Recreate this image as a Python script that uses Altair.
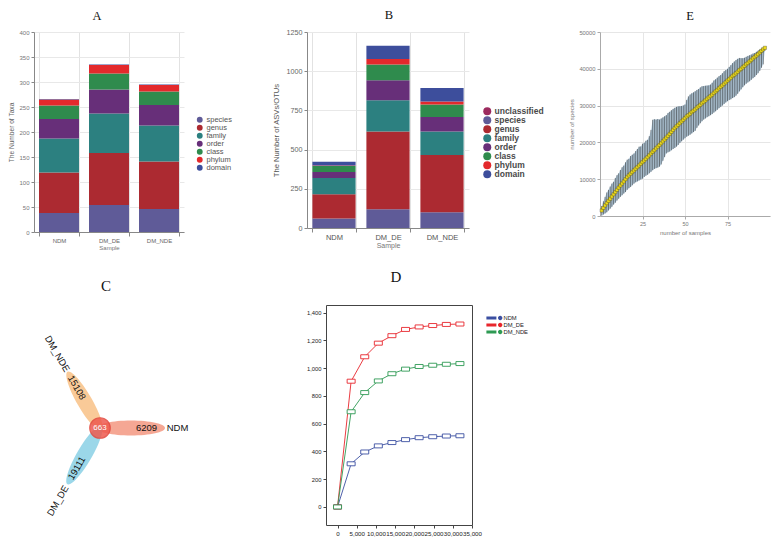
import math
import altair as alt
import pandas as pd

# ---------------- shared ----------------
samples = ["NDM", "DM_DE", "DM_NDE"]

# ---------------- Panel A : number of taxa ----------------
levels_a = ["species", "genus", "family", "order", "class", "phylum", "domain"]
colors_a = ["#5f5b98", "#ac2a31", "#2c8080", "#672f79", "#2f8b4d", "#e3292c", "#3d4e9c"]
taxa_species = [38, 54, 46]
taxa_genus = [81, 104, 95]
taxa_family = [68, 79, 72]
taxa_order = [39, 48, 41]
taxa_class = [27, 32, 27]
taxa_phylum = [12, 17, 13]
taxa_domain = [1, 1, 1]

# ---------------- Panel B : number of ASVs/OTUs ----------------
levels_b = ["unclassified", "species", "genus", "family", "order", "class", "phylum", "domain"]
colors_b = ["#9c2a5e", "#5f5b98", "#ac2a31", "#2c8080", "#672f79", "#2f8b4d", "#e3292c", "#3d4e9c"]
asv_unclassified = [0, 0, 0]
asv_species = [61, 120, 101]
asv_genus = [154, 495, 364]
asv_family = [104, 200, 150]
asv_order = [38, 127, 93]
asv_class = [39, 101, 79]
asv_phylum = [3, 35, 20]
asv_domain = [23, 84, 86]

# ---------------- Panel E : species accumulation ----------------
e_samples = list(range(1, 98))
e_mean = [1500, 2200, 2900, 3500, 4100, 4700, 5300, 5900, 6500, 7100,
          7700, 8300, 8850, 9400, 10000, 10600, 11050, 11500, 11950, 12400,
          12850, 13300, 13750, 14200, 14650, 15100, 15550, 16000, 16500, 17000,
          17450, 17900, 18400, 18850, 19300, 19800, 20300, 20800, 21300, 21800,
          22300, 22850, 23400, 23900, 24350, 24800, 25250, 25700, 26150, 26600,
          27050, 27400, 27800, 28250, 28600, 29000, 29450, 29800, 30200, 30650,
          31000, 31400, 31850, 32200, 32600, 33000, 33450, 33850, 34250, 34700,
          35100, 35500, 35950, 36350, 36800, 37200, 37600, 38050, 38400, 38800,
          39200, 39650, 40000, 40400, 40800, 41250, 41600, 42000, 42400, 42850,
          43200, 43600, 44000, 44450, 44880, 45300, 45700]
e_up = [1200, 1800, 2300, 2900, 3000, 3300, 3500, 3400, 3800, 4000,
        3900, 4200, 4400, 4300, 4600, 4700, 4500, 4800, 4700, 4600,
        4800, 4900, 5100, 4700, 5000, 4800, 4900, 4700, 5200, 6400,
        8700, 8400, 7800, 7500, 6900, 6700, 6500, 6300, 6100, 6200,
        6000, 5900, 5700, 5500, 5300, 5000, 4600, 4200, 3900, 3700,
        4500, 5100, 5200, 5100, 5000, 4900, 4800, 4700, 4750, 4600,
        4300, 4000, 3600, 3300, 3100, 3200, 3400, 3300, 3350, 3300,
        3200, 3300, 3400, 3300, 3200, 3300, 3400, 3500, 3600, 3580,
        3500, 3300, 2900, 2500, 2200, 2000, 1900, 1700, 1500, 1300,
        1100, 1000, 900, 800, 600, 400, 250]
e_down = [1400, 1800, 2200, 2500, 2600, 2700, 2800, 2800, 2900, 2900,
          3000, 3100, 3200, 3300, 3500, 3500, 3500, 3600, 3600, 3600,
          3700, 3900, 4100, 4300, 4500, 4500, 4600, 4800, 4900, 5000,
          5000, 5100, 5400, 5700, 5900, 5800, 5300, 4800, 4300, 4500,
          4800, 5000, 5200, 5400, 5500, 5500, 5400, 5400, 5400, 5450,
          5500, 5600, 5700, 5800, 5800, 5860, 5500, 5200, 5000, 4900,
          4800, 4900, 5000, 5100, 5200, 5300, 5350, 5400, 5400, 5400,
          5450, 5500, 5500, 5500, 5600, 5700, 5900, 6000, 6100, 6100,
          6000, 5800, 5600, 5400, 5300, 5300, 5300, 5400, 5400, 5400,
          5400, 5300, 5200, 5000, 4600, 4100, 800]

# ---------------- Panel C : flower / venn ----------------
venn_sets = ["NDM", "DM_NDE", "DM_DE"]
venn_unique = [6209, 15108, 19111]
venn_core = 663
venn_dir = [0, 120, 240]            # petal direction, degrees counter-clockwise
venn_fill = ["#f4a08b", "#f8c58f", "#93d4e7"]
venn_text_angle = [0, 60, 300]
petal_offset = 1.0
count_offset = 1.5
name_offset = [2.5, 2.76, 2.71]

# ---------------- Panel D : rarefaction ----------------
d_groups = ["NDM", "DM_DE", "DM_NDE"]
d_colors = ["#3b4fa1", "#e8262c", "#2e9a53"]
d_depth = [0, 3540, 7080, 10620, 14160, 17700, 21240, 24780, 28320, 31860]
d_ndm = [0, 311, 396, 440, 464, 485, 499, 506, 511, 513]
d_dm_de = [0, 906, 1082, 1180, 1234, 1279, 1297, 1307, 1315, 1318]
d_dm_nde = [0, 686, 824, 908, 960, 993, 1012, 1021, 1028, 1033]

# ---------------- shapes ----------------
ELLIPSE = ("M-1,0C-1,-0.1215 -0.5523,-0.22 0,-0.22C0.5523,-0.22 1,-0.1215 1,0"
           "C1,0.1215 0.5523,0.22 0,0.22C-0.5523,0.22 -1,0.1215 -1,0Z")
BOX = "M-1,-0.5L1,-0.5L1,0.5L-1,0.5Z"
LEGEND_SYM = ("M-2.9,-0.38L-0.4,-0.38L-0.4,0.38L-2.9,0.38Z "
              "M0,0C0,-0.304 0.246,-0.55 0.55,-0.55C0.854,-0.55 1.1,-0.304 1.1,0"
              "C1.1,0.304 0.854,0.55 0.55,0.55C0.246,0.55 0,0.304 0,0Z")


def stack_rows(levels, series):
    rows = []
    for i, lev in enumerate(levels):
        for s, v in zip(samples, series[i]):
            rows.append({"sample": s, "level": lev, "value": v, "rank": i})
    return pd.DataFrame(rows)


def panel_title(txt, size, offset, dx):
    return alt.TitleParams(txt, font="Liberation Serif", fontSize=size, fontWeight="normal",
                           color="#111", anchor="middle", frame="group", offset=offset, dx=dx)


# ---------- A ----------
dfA = stack_rows(levels_a, [taxa_species, taxa_genus, taxa_family, taxa_order,
                            taxa_class, taxa_phylum, taxa_domain])
chartA = alt.Chart(dfA).mark_bar().encode(
    x=alt.X("sample:N", sort=samples,
            scale=alt.Scale(paddingInner=0.2, paddingOuter=0.1),
            axis=alt.Axis(title="Sample", labelAngle=0, tickBand="extent", grid=True,
                          gridColor="#e2e2e2", domainColor="#888", tickColor="#888",
                          tickSize=4, labelColor="#666", labelFontSize=6, titleColor="#777",
                          titleFontSize=6, titleFontWeight="normal", labelPadding=1, titlePadding=1)),
    y=alt.Y("value:Q", stack="zero", scale=alt.Scale(domain=[0, 400]),
            axis=alt.Axis(title="The Number of Taxa", values=list(range(0, 401, 50)),
                          gridColor="#e8e8e8", domainColor="#888", tickColor="#888", tickSize=3,
                          labelColor="#777", labelFontSize=6, titleColor="#666", titleFontSize=6.6,
                          titleFontWeight="normal", labelPadding=2, titlePadding=4)),
    color=alt.Color("level:N", scale=alt.Scale(domain=levels_a, range=colors_a),
                    legend=alt.Legend(title=None, orient="none", legendX=162, legendY=84,
                                      symbolType="circle", symbolSize=34, symbolStrokeWidth=0,
                                      labelFontSize=7.5, labelColor="#555", rowPadding=-1.5,
                                      labelOffset=3, padding=0)),
    order=alt.Order("rank:Q"),
).properties(width=150, height=200, title=panel_title("A", 12.5, 7, -12))

# ---------- B ----------
dfB = stack_rows(levels_b, [asv_unclassified, asv_species, asv_genus, asv_family,
                            asv_order, asv_class, asv_phylum, asv_domain])
chartB = alt.Chart(dfB).mark_bar().encode(
    x=alt.X("sample:N", sort=samples,
            scale=alt.Scale(paddingInner=0.2, paddingOuter=0.1),
            axis=alt.Axis(title="Sample", labelAngle=0, tickBand="extent", grid=True,
                          gridColor="#e2e2e2", domainColor="#888", tickColor="#888",
                          tickSize=4, labelColor="#555", labelFontSize=7.5, titleColor="#777",
                          titleFontSize=7, titleFontWeight="normal", labelPadding=1, titlePadding=1)),
    y=alt.Y("value:Q", stack="zero", scale=alt.Scale(domain=[0, 1250]),
            axis=alt.Axis(title="The Number of ASVs/OTUs", values=list(range(0, 1251, 250)),
                          format="d", gridColor="#e8e8e8", domainColor="#888", tickColor="#888",
                          tickSize=3, labelColor="#666", labelFontSize=7.2, titleColor="#555",
                          titleFontSize=7.6, titleFontWeight="normal", labelPadding=2,
                          titlePadding=6)),
    color=alt.Color("level:N", scale=alt.Scale(domain=levels_b, range=colors_b),
                    legend=alt.Legend(title=None, orient="none", legendX=176, legendY=75,
                                      symbolType="circle", symbolSize=64, symbolStrokeWidth=0,
                                      labelFontSize=8.5, labelFontWeight="bold", labelColor="#4a4a4a",
                                      rowPadding=-0.5, labelOffset=3, padding=0)),
    order=alt.Order("rank:Q"),
).properties(width=162, height=196, title=panel_title("B", 12.5, 7, 1))

# ---------- E ----------
dfE = pd.DataFrame({"n": e_samples, "mean": e_mean, "up": e_up, "down": e_down})
dfE["hi"] = dfE["mean"] + dfE["up"]
dfE["lo"] = dfE["mean"] - dfE["down"]

xE = alt.X("n:Q", scale=alt.Scale(domain=[0, 100], nice=False),
           axis=alt.Axis(title="number of samples", values=[25, 50, 75], gridColor="#e6e6e6",
                         domainColor="#aaa", tickColor="#aaa", tickSize=3, labelColor="#777",
                         labelFontSize=5.5, titleColor="#777", titleFontSize=6,
                         titleFontWeight="normal", labelPadding=2, titlePadding=3))


def yE(field):
    return alt.Y(field, type="quantitative", scale=alt.Scale(domain=[0, 50000], nice=False),
                 axis=alt.Axis(title="number of species", values=list(range(0, 50001, 10000)),
                               format="d", gridColor="#e6e6e6", domainColor="#aaa", tickColor="#aaa",
                               tickSize=3, labelColor="#777", labelFontSize=5.8, titleColor="#777",
                               titleFontSize=6.2, titleFontWeight="normal", labelPadding=2,
                               titlePadding=4))


baseE = alt.Chart(dfE)
bandE = baseE.mark_area(color="#bed6e8", opacity=1).encode(x=xE, y=yE("lo"), y2="hi:Q")
barsE = baseE.mark_rule(color="#1a1a1a", strokeWidth=0.6, opacity=0.9).encode(
    x=xE, y=yE("lo"), y2="hi:Q")
lineE = baseE.mark_line(color="#111", strokeWidth=1.3).encode(x=xE, y=yE("mean"))
ptsE = baseE.mark_point(shape="square", filled=True, color="#eedb1c", size=11,
                        stroke="#222", strokeWidth=0.3, opacity=1).encode(x=xE, y=yE("mean"))
chartE = alt.layer(bandE, barsE, lineE, ptsE).properties(
    width=170, height=184, title=panel_title("E", 12.5, 7, 5))

# ---------- C ----------
unit_px = 31.0
c_width, c_height = 262, 215
c_cx, c_cy = 66.0, 123.0
rows = []
for name, cnt, d, fill, ta, no in zip(venn_sets, venn_unique, venn_dir, venn_fill,
                                      venn_text_angle, name_offset):
    ca, sa = math.cos(math.radians(d)), math.sin(math.radians(d))
    rows.append({"set": name, "count": str(cnt), "fill": fill,
                 "rot": (360 - d) % 180, "tangle": ta,
                 "px": petal_offset * ca, "py": petal_offset * sa,
                 "cx": count_offset * ca, "cy": count_offset * sa,
                 "nx": no * ca, "ny": no * sa})
dfC = pd.DataFrame(rows)
dfCore = pd.DataFrame({"x": [0.0], "y": [0.0], "count": [str(venn_core)]})

scx = alt.Scale(domain=[-c_cx / unit_px, (c_width - c_cx) / unit_px], nice=False, zero=False)
scy = alt.Scale(domain=[-(c_height - c_cy) / unit_px, c_cy / unit_px], nice=False, zero=False)

petals = alt.Chart(dfC).mark_point(shape=ELLIPSE, filled=True, size=4624, opacity=0.92,
                                   strokeWidth=0).encode(
    x=alt.X("px:Q", scale=scx, axis=None),
    y=alt.Y("py:Q", scale=scy, axis=None),
    fill=alt.Fill("fill:N", scale=None),
    angle=alt.Angle("rot:Q", scale=None))
core = alt.Chart(dfCore).mark_point(shape="circle", filled=True, size=420, color="#ee5a4f",
                                    opacity=0.85, stroke="#e2443a", strokeWidth=1.2).encode(
    x=alt.X("x:Q", scale=scx, axis=None), y=alt.Y("y:Q", scale=scy, axis=None))
core_txt = alt.Chart(dfCore).mark_text(fontSize=8, color="white").encode(
    x=alt.X("x:Q", scale=scx, axis=None), y=alt.Y("y:Q", scale=scy, axis=None), text="count:N")
count_txt = alt.Chart(dfC).mark_text(fontSize=9.5, color="#111").encode(
    x=alt.X("cx:Q", scale=scx, axis=None), y=alt.Y("cy:Q", scale=scy, axis=None),
    text="count:N", angle=alt.Angle("tangle:Q", scale=None))
name_txt = alt.Chart(dfC).mark_text(fontSize=9.5, color="#111").encode(
    x=alt.X("nx:Q", scale=scx, axis=None), y=alt.Y("ny:Q", scale=scy, axis=None),
    text="set:N", angle=alt.Angle("tangle:Q", scale=None))
chartC = alt.layer(petals, core, core_txt, count_txt, name_txt).properties(
    width=c_width, height=c_height,
    title=alt.TitleParams("C", font="Liberation Serif", fontSize=15, fontWeight="normal",
                          color="#111", anchor="start", frame="group", offset=11, dx=67))

# ---------- D ----------
rowsD = []
for g, col, vals in zip(d_groups, d_colors, [d_ndm, d_dm_de, d_dm_nde]):
    for dep, v in zip(d_depth, vals):
        rowsD.append({"group": g, "col": col, "depth": dep, "value": v})
dfD = pd.DataFrame(rowsD)

xD = alt.X("depth:Q", scale=alt.Scale(domain=[-3000, 35000], nice=False, zero=False),
           axis=alt.Axis(title=None, values=list(range(0, 35001, 5000)), format=",.0f",
                         labelOverlap=False, labelFlush=False, grid=False, domain=False,
                         tickColor="#444", tickSize=3, labelColor="#222", labelFontSize=6.2,
                         labelPadding=2))
yD = alt.Y("value:Q", scale=alt.Scale(domain=[-130, 1455], nice=False, zero=False),
           axis=alt.Axis(title=None, values=list(range(0, 1401, 200)), format=",.0f",
                         grid=False, domain=False, tickColor="#444", tickSize=3,
                         labelColor="#222", labelFontSize=5.8, labelPadding=2))
linesD = alt.Chart(dfD).mark_line(strokeWidth=0.9).encode(
    x=xD, y=yD, stroke=alt.Stroke("col:N", scale=None), detail="group:N")
boxesD = alt.Chart(dfD).mark_point(shape=BOX, size=64, filled=False, fill="white",
                                   strokeWidth=0.9, opacity=1).encode(
    x=xD, y=yD, stroke=alt.Stroke("col:N", scale=None))
legendD = alt.Chart(dfD).mark_point(filled=True, opacity=0, size=4).encode(
    x=xD, y=yD,
    fill=alt.Fill("group:N", scale=alt.Scale(domain=d_groups, range=d_colors),
                  legend=alt.Legend(title=None, orient="none", legendX=168, legendY=9,
                                    symbolType=LEGEND_SYM, symbolSize=64, symbolStrokeWidth=0,
                                    symbolOpacity=1, labelFontSize=5.8, labelColor="#222",
                                    labelOffset=1.5, rowPadding=0, padding=0)))
chartD = alt.layer(linesD, boxesD, legendD).properties(
    width=146, height=220, view=alt.ViewBackground(stroke="#444", strokeWidth=1),
    title=panel_title("D", 15, 20, -3))

# ---------- layout ----------
res = dict(color="independent", fill="independent", stroke="independent")
topAB = alt.hconcat(chartA, chartB, spacing=38).resolve_scale(**res)
top = alt.hconcat(topAB, chartE, spacing=23).resolve_scale(**res)
bottom = alt.hconcat(chartC, chartD, spacing=8).resolve_scale(**res)
chart = alt.vconcat(top, bottom, spacing=18).resolve_scale(**res).properties(
    padding=0).configure(font="Liberation Sans").configure_view(stroke="transparent")

chart.save("out.html", embed_options={"renderer": "svg", "actions": False})
